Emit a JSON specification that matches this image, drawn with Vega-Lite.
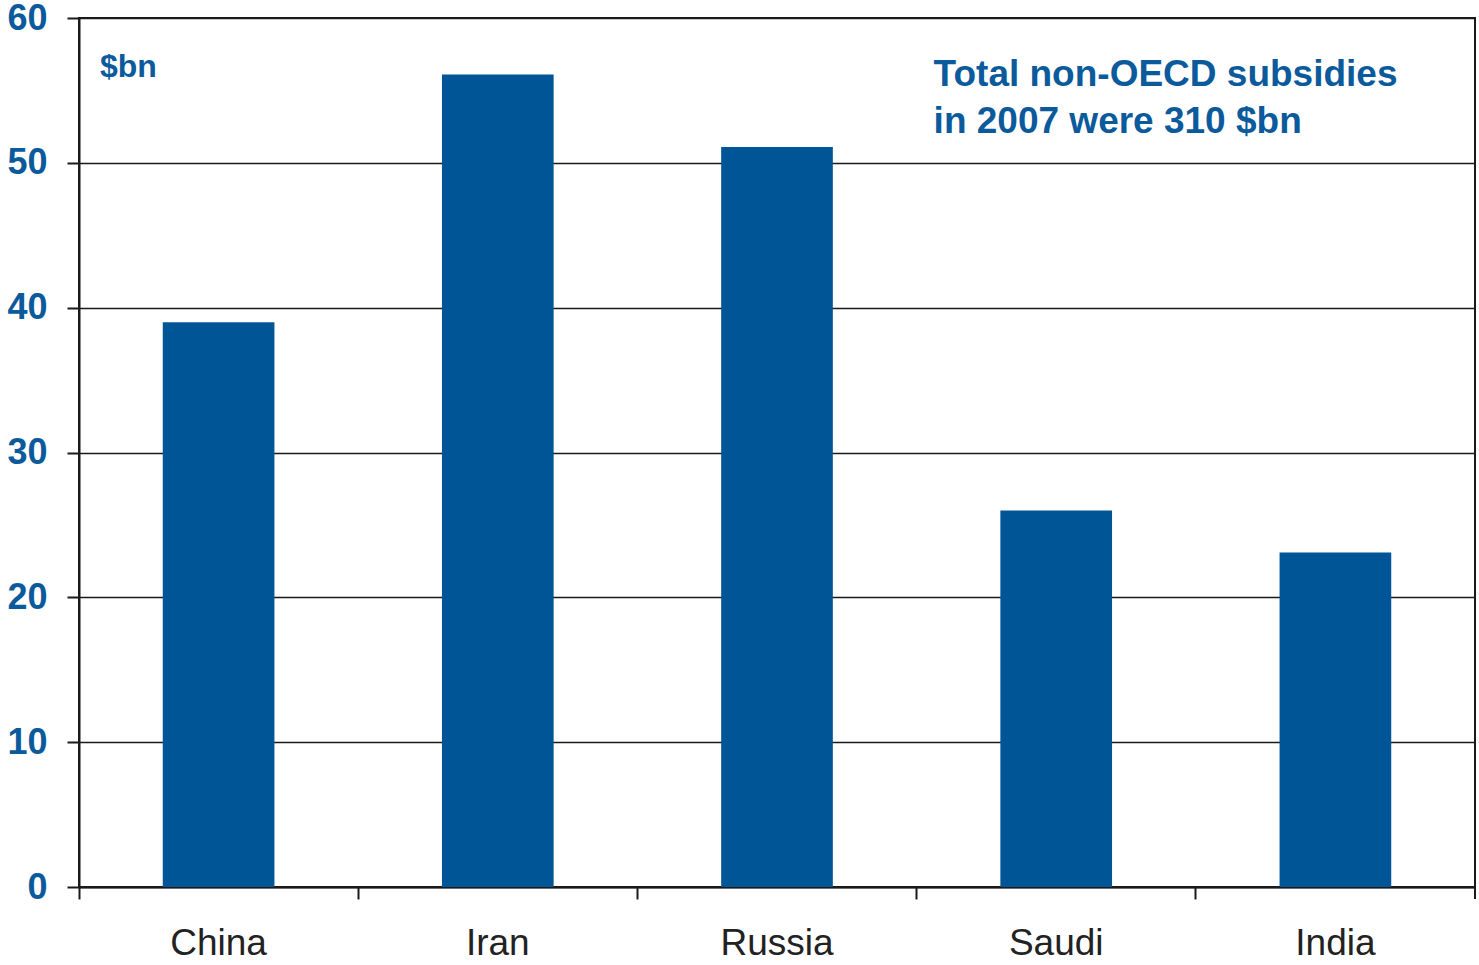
{
  "$schema": "https://vega.github.io/schema/vega-lite/v6.json",
  "width": 1396,
  "height": 869,
  "autosize": {"type": "none"},
  "padding": {"left": 79, "top": 18, "right": 4, "bottom": 78},
  "background": "white",
  "config": {
    "font": "Liberation Sans",
    "view": {"stroke": "#1a1a1a", "strokeWidth": 2}
  },
  "datasets": {
    "bars": [
      {"country": "China", "value": 39.0},
      {"country": "Iran", "value": 56.1},
      {"country": "Russia", "value": 51.1},
      {"country": "Saudi", "value": 26.0},
      {"country": "India", "value": 23.1}
    ],
    "notes": [
      {"country": "China", "y": 55.9, "label": ["$bn"], "kind": "unit"},
      {"country": "Saudi", "y": 55.3, "label": ["Total non-OECD subsidies", "in 2007 were 310 $bn"], "kind": "note"}
    ],
    "edge": [
      {"country": "India", "y1": 0, "y2": -0.83}
    ]
  },
  "layer": [
    {
      "data": {"name": "bars"},
      "mark": {"type": "bar", "color": "#005596", "width": {"band": 0.4}},
      "encoding": {
        "x": {
          "field": "country",
          "type": "nominal",
          "sort": ["China", "Iran", "Russia", "Saudi", "India"],
          "scale": {"domain": ["China", "Iran", "Russia", "Saudi", "India"], "paddingInner": 0, "paddingOuter": 0},
          "axis": {
            "title": null,
            "bandPosition": 0,
            "labelAngle": 0,
            "labelFontSize": 37,
            "labelColor": "#222222",
            "labelPadding": 26,
            "tickSize": 12,
            "tickColor": "#1a1a1a",
            "tickWidth": 2,
            "domainColor": "#1a1a1a",
            "domainWidth": 2,
            "grid": false
          }
        },
        "y": {
          "field": "value",
          "type": "quantitative",
          "scale": {"domain": [0, 60], "nice": false},
          "axis": {
            "title": null,
            "values": [0, 10, 20, 30, 40, 50, 60],
            "labelFontSize": 36,
            "labelFontWeight": "bold",
            "labelColor": "#0B5A9C",
            "labelPadding": 20,
            "tickSize": 12,
            "tickColor": "#1a1a1a",
            "tickWidth": 2,
            "domainColor": "#1a1a1a",
            "domainWidth": 2,
            "grid": true,
            "gridColor": "#1a1a1a",
            "gridWidth": 1.5,
            "gridOpacity": 1,
            "zindex": 0
          }
        }
      }
    },
    {
      "data": {"name": "notes"},
      "transform": [{"filter": "datum.kind == 'unit'"}],
      "mark": {"type": "text", "align": "left", "baseline": "alphabetic", "fontSize": 32, "fontWeight": "bold", "color": "#0B5A9C", "dx": 21},
      "encoding": {
        "x": {"field": "country", "type": "nominal", "bandPosition": 0},
        "y": {"field": "y", "type": "quantitative"},
        "text": {"field": "label"}
      }
    },
    {
      "data": {"name": "notes"},
      "transform": [{"filter": "datum.kind == 'note'"}],
      "mark": {"type": "text", "align": "left", "baseline": "alphabetic", "fontSize": 37, "fontWeight": "bold", "color": "#0B5A9C", "dx": 17, "lineHeight": 47},
      "encoding": {
        "x": {"field": "country", "type": "nominal", "bandPosition": 0},
        "y": {"field": "y", "type": "quantitative"},
        "text": {"field": "label"}
      }
    },
    {
      "data": {"name": "edge"},
      "mark": {"type": "rule", "color": "#1a1a1a", "strokeWidth": 2, "clip": false},
      "encoding": {
        "x": {"field": "country", "type": "nominal", "bandPosition": 1},
        "y": {"field": "y1", "type": "quantitative"},
        "y2": {"field": "y2"}
      }
    }
  ]
}
